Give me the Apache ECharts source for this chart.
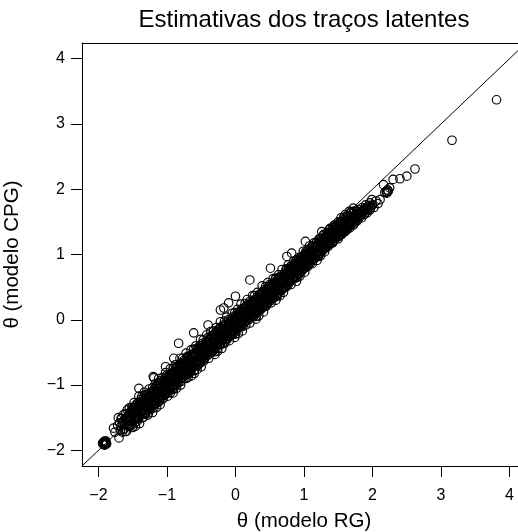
<!DOCTYPE html>
<html><head><meta charset="utf-8">
<script src="https://cdn.jsdelivr.net/npm/echarts@6/dist/echarts.min.js"></script>
<style>html,body{margin:0;padding:0;background:#fff;overflow:hidden}#c{width:518px;height:532px}</style>
</head><body><div id="c"></div>
<script>
const titulo = 'Estimativas dos traços latentes';
const nomeX = 'θ (modelo RG)';
const nomeY = 'θ (modelo CPG)';
const marcas = [-2, -1, 0, 1, 2, 3, 4];
const limitesX = [-2.24, 4.24];
const limitesY = [-2.24, 4.24];
const linhaIdentidade = [-2.24, 4.24];

// [theta RG, theta CPG]
const aglomerado = [[-1.91,-1.88],[-1.92,-1.90],[-1.90,-1.87],[-1.89,-1.89],[-1.93,-1.91],[-1.91,-1.86],[-1.88,-1.90],[-1.92,-1.87],[-1.90,-1.91],[-1.94,-1.89],[-1.89,-1.86],[-1.91,-1.92]];
const faixaBaixa = [[-1.78,-1.66],[-1.76,-1.72],[-1.72,-1.62],[-1.71,-1.50],[-1.69,-1.58],[-1.67,-1.63],[-1.66,-1.51],[-1.64,-1.56],[-1.62,-1.66],[-1.61,-1.71],[-1.60,-1.52],[-1.58,-1.38],[-1.58,-1.60],[-1.57,-1.48],[-1.56,-1.55],[-1.55,-1.43],[-1.54,-1.62],[-1.53,-1.50],[-1.52,-1.40],[-1.51,-1.57],
[-1.50,-1.45],[-1.49,-1.36],[-1.48,-1.52],[-1.47,-1.42],[-1.46,-1.31],[-1.45,-1.48],[-1.44,-1.38],[-1.43,-1.55],[-1.42,-1.27],[-1.41,-1.05],[-1.41,-1.40],[-1.40,-1.46],[-1.39,-1.33],[-1.38,-1.22],[-1.37,-1.42],[-1.36,-1.30],[-1.35,-1.50],[-1.34,-1.25],[-1.33,-1.38],[-1.32,-1.15],[-1.31,-1.44],[-1.30,-1.28],[-1.29,-1.34],[-1.28,-1.20],[-1.27,-1.43],[-1.26,-1.24],[-1.25,-1.12],[-1.24,-1.36],[-1.23,-1.27],[-1.22,-1.18],[-1.21,-1.32],[-1.20,-0.87],[-1.20,-1.10],
[-1.19,-0.89],[-1.19,-1.22],[-1.18,-1.05],[-1.17,-1.28],[-1.16,-1.14],[-1.15,-1.00],[-1.14,-1.21],[-1.13,-1.09],[-1.12,-0.96],[-1.11,-1.25],[-1.10,-1.04],[-1.09,-1.16],[-1.08,-0.93],[-1.07,-1.10],[-1.06,-1.20],[-1.05,-0.98],[-1.04,-1.07],[-1.03,-0.90],[-1.02,-0.72],[-1.02,-1.14],[-1.01,-1.02],[-1.00,-0.94],[-0.99,-1.10],[-0.98,-0.86],[-0.97,-1.03],[-0.96,-0.95],[-0.95,-1.12],[-0.94,-0.83],[-0.93,-0.99],[-0.92,-0.90],[-0.91,-1.05],[-0.90,-0.59],[-0.90,-0.80]];
const faixaMedia = [[-0.89,-0.96],[-0.88,-0.85],[-0.87,-0.74],[-0.86,-1.00],[-0.85,-0.88],[-0.84,-0.78],[-0.83,-0.36],[-0.83,-0.92],[-0.82,-0.70],[-0.81,-0.84],[-0.80,-0.95],[-0.79,-0.66],[-0.78,-0.80],[-0.77,-0.88],[-0.76,-0.72],[-0.75,-0.62],[-0.74,-0.85],[-0.73,-0.76],[-0.72,-0.90],[-0.71,-0.68],[-0.70,-0.79],[-0.69,-0.58],[-0.68,-0.83],[-0.67,-0.71],[-0.66,-0.62],[-0.65,-0.77],[-0.64,-0.86],[-0.63,-0.55],[-0.62,-0.70],[-0.61,-0.20],[-0.61,-0.64],[-0.60,-0.78],
[-0.59,-0.52],[-0.58,-0.66],[-0.57,-0.45],[-0.56,-0.60],[-0.55,-0.70],[-0.54,-0.48],[-0.53,-0.57],[-0.52,-0.40],[-0.51,-0.64],[-0.50,-0.50],[-0.49,-0.58],[-0.48,-0.36],[-0.47,-0.47],[-0.46,-0.61],[-0.45,-0.42],[-0.44,-0.52],[-0.43,-0.33],[-0.42,-0.46],[-0.41,-0.55],[-0.40,-0.08],[-0.40,-0.38],[-0.39,-0.44],[-0.38,-0.30],[-0.37,-0.50],[-0.36,-0.36],[-0.35,-0.25],[-0.34,-0.42],[-0.33,-0.31],[-0.32,-0.47],[-0.31,-0.22],[-0.30,-0.35],
[-0.29,-0.40],[-0.28,-0.18],[-0.27,-0.29],[-0.26,-0.44],[-0.25,-0.24],[-0.24,-0.33],[-0.23,-0.14],[-0.22,0.15],[-0.22,-0.38],[-0.21,-0.26],[-0.20,-0.18],[-0.19,-0.32],[-0.18,-0.08],[-0.17,0.18],[-0.17,-0.24],[-0.16,-0.36],[-0.15,-0.14],[-0.14,-0.22],[-0.13,-0.05],[-0.12,-0.30],[-0.11,-0.16],[-0.10,0.26],[-0.10,-0.08],[-0.09,-0.25],[-0.08,-0.13],[-0.07,-0.02],[-0.06,-0.21],[-0.05,-0.10],[-0.04,0.02],[-0.03,-0.18],[-0.02,-0.07],[-0.01,0.06],
[0.00,0.36],[0.00,-0.12],[0.01,-0.02],[0.02,-0.16],[0.03,0.08],[0.04,-0.05],[0.05,0.10],[0.06,-0.08],[0.07,0.02],[0.08,0.14],[0.09,-0.04],[0.10,0.06],[0.11,-0.10],[0.12,0.17],[0.13,0.03],[0.14,0.10],[0.15,-0.02],[0.16,0.21],[0.17,0.07],[0.18,0.13],[0.19,0.00],[0.20,0.24],[0.21,0.61],[0.21,0.09],[0.22,0.16],[0.23,0.04],[0.24,0.27],[0.25,0.12],[0.26,0.20],[0.27,0.08],[0.28,0.30],[0.29,0.15]];
const faixaAlta = [[0.30,0.22],[0.31,0.11],[0.32,0.33],[0.33,0.19],[0.34,0.26],[0.35,0.14],[0.36,0.37],[0.37,0.23],[0.38,0.30],[0.39,0.18],[0.40,0.41],[0.41,0.27],[0.42,0.34],[0.43,0.21],[0.44,0.45],[0.45,0.31],[0.46,0.38],[0.47,0.25],[0.48,0.49],[0.49,0.35],[0.50,0.42],[0.51,0.79],[0.51,0.29],[0.52,0.52],[0.53,0.39],[0.54,0.46],[0.55,0.33],[0.56,0.56],[0.57,0.43],[0.58,0.50],[0.59,0.37],
[0.60,0.60],[0.61,0.47],[0.62,0.54],[0.63,0.41],[0.64,0.63],[0.65,0.51],[0.66,0.58],[0.67,0.46],[0.68,0.67],[0.69,0.55],[0.70,0.62],[0.71,0.50],[0.72,0.71],[0.73,0.59],[0.74,0.66],[0.75,0.97],[0.75,0.54],[0.76,0.74],[0.77,0.63],[0.78,0.70],[0.79,0.58],[0.80,0.78],[0.81,0.67],[0.82,1.02],[0.82,0.74],[0.83,0.62],[0.84,0.82],[0.85,0.71],[0.86,0.77],[0.87,0.66],[0.88,0.86],[0.89,0.75],
[0.90,0.81],[0.91,0.70],[0.92,0.90],[0.93,0.79],[0.94,0.85],[0.95,0.74],[0.96,0.93],[0.97,0.83],[0.98,0.89],[0.99,0.78],[1.00,0.97],[1.01,0.87],[1.02,1.20],[1.02,0.93],[1.03,0.82],[1.04,1.01],[1.05,0.91],[1.06,0.97],[1.07,0.86],[1.08,1.05],[1.09,0.95],[1.10,1.01],[1.11,0.90],[1.12,1.08],[1.13,0.99],[1.14,1.05],[1.15,0.94],[1.16,1.12],[1.17,1.03],[1.18,1.09],[1.19,0.98],
[1.20,1.16],[1.21,1.06],[1.22,1.13],[1.23,1.02],[1.24,1.19],[1.25,1.10],[1.26,1.35],[1.26,1.17],[1.27,1.06],[1.28,1.22],[1.29,1.14],[1.30,1.20],[1.31,1.10],[1.32,1.26],[1.33,1.18],[1.34,1.24],[1.35,1.14],[1.36,1.29],[1.37,1.21],[1.38,1.27],[1.39,1.18],[1.40,1.33],[1.41,1.25],[1.42,1.30],[1.43,1.21],[1.44,1.36],[1.45,1.28],[1.46,1.34],[1.47,1.25],[1.48,1.39],[1.49,1.31],
[1.50,1.37],[1.51,1.28],[1.52,1.42],[1.53,1.35],[1.54,1.40],[1.55,1.31],[1.56,1.45],[1.57,1.38],[1.58,1.43],[1.59,1.35],[1.60,1.48],[1.61,1.41],[1.62,1.46],[1.63,1.38],[1.64,1.51],[1.65,1.44],[1.66,1.49],[1.67,1.41],[1.68,1.54],[1.69,1.47],[1.70,1.52],[1.72,1.71],[1.72,1.45],[1.73,1.55],[1.75,1.50],[1.76,1.58],[1.78,1.52],[1.79,1.60]];
const faixaLarga = [[-1.70,-1.81],[-1.69,-1.58],[-1.68,-1.69],[-1.67,-1.51],[-1.65,-1.72],[-1.65,-1.59],[-1.63,-1.68],[-1.63,-1.45],[-1.62,-1.60],[-1.61,-1.52],
[-1.60,-1.44],[-1.59,-1.71],[-1.57,-1.52],[-1.57,-1.62],[-1.55,-1.35],[-1.55,-1.63],[-1.53,-1.41],[-1.53,-1.53],[-1.51,-1.34],[-1.50,-1.65],
[-1.50,-1.64],[-1.49,-1.41],[-1.48,-1.27],[-1.46,-1.52],[-1.46,-1.63],[-1.44,-1.29],[-1.44,-1.42],[-1.42,-1.52],[-1.41,-1.17],[-1.40,-1.29],
[-1.40,-1.59],[-1.39,-1.26],[-1.38,-1.43],[-1.37,-1.18],[-1.35,-1.49],[-1.35,-1.30],[-1.33,-1.43],[-1.33,-1.11],[-1.31,-1.32],[-1.30,-1.21],
[-1.30,-1.15],[-1.28,-1.46],[-1.28,-1.26],[-1.26,-1.35],[-1.26,-1.06],[-1.24,-1.37],[-1.23,-1.13],[-1.23,-1.27],[-1.21,-1.04],[-1.21,-1.42],
[-1.19,-1.35],[-1.19,-1.13],[-1.17,-0.98],[-1.17,-1.25],[-1.15,-1.34],[-1.15,-1.02],[-1.14,-1.14],[-1.12,-1.24],[-1.12,-0.90],[-1.10,-1.01],
[-1.10,-1.30],[-1.09,-0.97],[-1.08,-1.14],[-1.06,-0.88],[-1.06,-1.21],[-1.04,-1.00],[-1.04,-1.15],[-1.02,-0.81],[-1.02,-1.04],[-1.00,-0.92],
[-1.00,-0.85],[-0.99,-1.17],[-0.97,-0.95],[-0.97,-1.06],[-0.95,-0.75],[-0.95,-1.08],[-0.93,-0.83],[-0.93,-0.97],[-0.91,-0.74],[-0.91,-1.12],
[-0.90,-1.06],[-0.88,-0.82],[-0.88,-0.69],[-0.86,-0.94],[-0.86,-1.05],[-0.85,-0.72],[-0.83,-0.83],[-0.83,-0.95],[-0.81,-0.59],[-0.80,-0.71],
[-0.80,-1.00],[-0.79,-0.67],[-0.77,-0.83],[-0.77,-0.59],[-0.75,-0.90],[-0.74,-0.70],[-0.74,-0.85],[-0.72,-0.51],[-0.72,-0.74],[-0.70,-0.62],
[-0.70,-0.56],[-0.69,-0.88],[-0.68,-0.67],[-0.66,-0.76],[-0.65,-0.46],[-0.65,-0.79],[-0.63,-0.54],[-0.63,-0.68],[-0.61,-0.45],[-0.60,-0.82],
[-0.60,-0.77],[-0.59,-0.54],[-0.58,-0.40],[-0.56,-0.65],[-0.56,-0.76],[-0.54,-0.42],[-0.53,-0.54],[-0.53,-0.66],[-0.51,-0.30],[-0.51,-0.43],
[-0.50,-0.72],[-0.49,-0.39],[-0.48,-0.56],[-0.47,-0.31],[-0.46,-0.63],[-0.44,-0.42],[-0.44,-0.57],[-0.42,-0.23],[-0.41,-0.45],[-0.41,-0.35],
[-0.40,-0.27],[-0.39,-0.59],[-0.37,-0.37],[-0.37,-0.48],[-0.36,-0.18],[-0.34,-0.49],[-0.34,-0.26],[-0.32,-0.38],[-0.32,-0.17],[-0.30,-0.53],
[-0.30,-0.49],[-0.29,-0.26],[-0.28,-0.12],[-0.26,-0.37],[-0.26,-0.48],[-0.24,-0.14],[-0.23,-0.26],[-0.23,-0.38],[-0.22,-0.03],[-0.20,-0.14],
[-0.20,-0.44],[-0.18,-0.10],[-0.18,-0.28],[-0.16,-0.02],[-0.16,-0.35],[-0.15,-0.15],[-0.13,-0.28],[-0.13,0.04],[-0.12,-0.18],[-0.10,-0.06],
[-0.10,0.00],[-0.09,-0.32],[-0.07,-0.10],[-0.07,-0.21],[-0.05,0.10],[-0.05,-0.23],[-0.04,0.01],[-0.02,-0.11],[-0.01,0.11],[-0.01,-0.27],
[0.00,-0.22],[0.01,0.01],[0.03,0.16],[0.04,-0.10],[0.04,-0.21],[0.06,0.13],[0.06,0.00],[0.08,-0.10],[0.08,0.24],[0.10,0.13],
[0.10,-0.17],[0.12,0.17],[0.12,-0.01],[0.14,0.25],[0.15,-0.08],[0.15,0.12],[0.17,-0.01],[0.17,0.31],[0.19,0.10],[0.19,0.20],
[0.21,0.28],[0.21,-0.05],[0.23,0.17],[0.23,0.06],[0.25,0.37],[0.26,0.05],[0.26,0.28],[0.28,0.16],[0.28,0.37],[0.30,0.01],
[0.30,0.05],[0.32,0.29],[0.32,0.42],[0.34,0.17],[0.34,0.06],[0.36,0.40],[0.37,0.28],[0.37,0.16],[0.39,0.52],[0.40,0.40],
[0.41,0.12],[0.41,0.42],[0.43,0.27],[0.44,0.51],[0.45,0.21],[0.45,0.39],[0.47,0.27],[0.47,0.57],[0.48,0.36],[0.50,0.48],
[0.50,0.54],[0.52,0.26],[0.52,0.44],[0.54,0.36],[0.55,0.63],[0.56,0.34],[0.56,0.55],[0.58,0.44],[0.59,0.64],[0.59,0.30],
[0.61,0.36],[0.61,0.55],[0.63,0.69],[0.63,0.45],[0.65,0.37],[0.65,0.66],[0.67,0.56],[0.67,0.45],[0.68,0.77],[0.70,0.67],
[0.70,0.42],[0.72,0.71],[0.72,0.56],[0.74,0.78],[0.74,0.50],[0.76,0.68],[0.77,0.57],[0.77,0.84],[0.79,0.66],[0.80,0.76],
[0.81,0.82],[0.81,0.54],[0.83,0.73],[0.83,0.63],[0.85,0.90],[0.86,0.63],[0.86,0.83],[0.88,0.73],[0.88,0.90],[0.89,0.59],
[0.90,0.65],[0.92,0.85],[0.92,0.95],[0.94,0.76],[0.94,0.67],[0.96,0.94],[0.96,0.84],[0.97,0.75],[0.99,1.05],[1.00,0.95],
[1.01,0.73],[1.01,0.99],[1.03,0.86],[1.03,1.05],[1.05,0.81],[1.05,0.96],[1.07,0.86],[1.08,1.13],[1.08,0.94],[1.10,1.04],
[1.10,1.09],[1.12,0.86],[1.13,1.03],[1.13,0.94],[1.15,1.18],[1.16,0.94],[1.16,1.12],[1.18,1.03],[1.18,1.19],[1.19,0.91],
[1.21,0.97],[1.21,1.12],[1.23,1.23],[1.24,1.05],[1.24,0.98],[1.26,1.22],[1.27,1.14],[1.27,1.06],[1.29,1.31],[1.29,1.22],
[1.30,1.04],[1.32,1.27],[1.32,1.15],[1.34,1.33],[1.35,1.12],[1.35,1.25],[1.37,1.17],[1.37,1.38],[1.39,1.25],[1.40,1.32],
[1.40,1.36],[1.42,1.18],[1.43,1.31],[1.43,1.25],[1.45,1.44],[1.46,1.25],[1.46,1.39],[1.48,1.33],[1.48,1.45],[1.50,1.24],
[1.51,1.28],[1.51,1.40],[1.53,1.49],[1.53,1.35],[1.55,1.31],[1.55,1.48],[1.57,1.43],[1.57,1.36],[1.59,1.57],[1.60,1.51],
[1.60,1.35],[1.62,1.53],[1.62,1.44],[1.64,1.58],[1.65,1.42],[1.66,1.53],[1.66,1.45],[1.68,1.64],[1.69,1.53],[1.69,1.58],
[1.71,1.56],[1.73,1.50],[1.74,1.60],[1.76,1.54],[1.77,1.63],[1.79,1.57],[1.80,1.64],[1.82,1.60],[1.84,1.66],[1.85,1.61],[1.87,1.69],[1.89,1.64],[1.91,1.72],[1.93,1.68],[1.95,1.75],[1.97,1.71]];
const nucleo = [[-1.56,-1.49],[-1.55,-1.62],[-1.54,-1.42],[-1.53,-1.56],[-1.52,-1.43],[-1.51,-1.61],[-1.50,-1.36],[-1.49,-1.54],[-1.48,-1.42],[-1.47,-1.58],[-1.46,-1.35],[-1.45,-1.49],[-1.44,-1.31],[-1.43,-1.51],[-1.42,-1.34],[-1.41,-1.50],
[-1.40,-1.33],[-1.39,-1.46],[-1.38,-1.26],[-1.37,-1.40],[-1.36,-1.27],[-1.35,-1.45],[-1.34,-1.20],[-1.33,-1.38],[-1.32,-1.26],[-1.31,-1.42],[-1.30,-1.19],[-1.29,-1.33],[-1.28,-1.15],[-1.27,-1.35],[-1.26,-1.18],[-1.25,-1.34],
[-1.24,-1.17],[-1.23,-1.30],[-1.22,-1.10],[-1.21,-1.24],[-1.20,-1.13],[-1.19,-1.31],[-1.18,-1.06],[-1.17,-1.24],[-1.16,-1.12],[-1.15,-1.28],[-1.14,-1.05],[-1.13,-1.19],[-1.12,-1.01],[-1.11,-1.21],[-1.10,-1.04],[-1.09,-1.20],
[-1.08,-1.03],[-1.07,-1.16],[-1.06,-0.96],[-1.05,-1.10],[-1.04,-0.97],[-1.03,-1.15],[-1.02,-0.90],[-1.01,-1.08],[-1.00,-0.96],[-0.99,-1.12],[-0.98,-0.89],[-0.97,-1.03],[-0.96,-0.85],[-0.95,-1.05],[-0.94,-0.88],[-0.93,-1.04],
[-0.92,-0.87],[-0.91,-1.00],[-0.90,-0.80],[-0.89,-0.94],[-0.88,-0.81],[-0.87,-0.99],[-0.86,-0.74],[-0.85,-0.92],[-0.84,-0.80],[-0.83,-0.96],[-0.82,-0.73],[-0.81,-0.87],[-0.80,-0.69],[-0.79,-0.89],[-0.78,-0.72],[-0.77,-0.88],
[-0.76,-0.71],[-0.75,-0.84],[-0.74,-0.64],[-0.73,-0.78],[-0.72,-0.65],[-0.71,-0.83],[-0.70,-0.58],[-0.69,-0.76],[-0.68,-0.64],[-0.67,-0.80],[-0.66,-0.57],[-0.65,-0.71],[-0.64,-0.53],[-0.63,-0.73],[-0.62,-0.56],[-0.61,-0.72],
[-0.60,-0.57],[-0.59,-0.70],[-0.58,-0.50],[-0.57,-0.64],[-0.56,-0.51],[-0.55,-0.69],[-0.54,-0.44],[-0.53,-0.62],[-0.52,-0.50],[-0.51,-0.66],[-0.50,-0.43],[-0.49,-0.57],[-0.48,-0.39],[-0.47,-0.59],[-0.46,-0.42],[-0.45,-0.58],
[-0.44,-0.41],[-0.43,-0.54],[-0.42,-0.34],[-0.41,-0.48],[-0.40,-0.35],[-0.39,-0.53],[-0.38,-0.28],[-0.37,-0.46],[-0.36,-0.34],[-0.35,-0.50],[-0.34,-0.27],[-0.33,-0.41],[-0.32,-0.23],[-0.31,-0.43],[-0.30,-0.26],[-0.29,-0.42],
[-0.28,-0.25],[-0.27,-0.38],[-0.26,-0.18],[-0.25,-0.32],[-0.24,-0.19],[-0.23,-0.37],[-0.22,-0.12],[-0.21,-0.30],[-0.20,-0.21],[-0.19,-0.37],[-0.18,-0.14],[-0.17,-0.28],[-0.16,-0.10],[-0.15,-0.30],[-0.14,-0.13],[-0.13,-0.29],
[-0.12,-0.12],[-0.11,-0.25],[-0.10,-0.05],[-0.09,-0.19],[-0.08,-0.06],[-0.07,-0.24],[-0.06,0.01],[-0.05,-0.17],[-0.04,-0.05],[-0.03,-0.21],[-0.02,0.02],[-0.01,-0.12],[0.00,0.06],[0.01,-0.14],[0.02,0.03],[0.03,-0.13],
[0.04,0.04],[0.05,-0.09],[0.06,0.11],[0.07,-0.03],[0.08,0.10],[0.09,-0.08],[0.10,0.17],[0.11,-0.01],[0.12,0.11],[0.13,-0.05],[0.14,0.18],[0.15,0.04],[0.16,0.22],[0.17,0.02],[0.18,0.19],[0.19,0.03],
[0.20,0.17],[0.21,0.04],[0.22,0.24],[0.23,0.10],[0.24,0.23],[0.25,0.05],[0.26,0.30],[0.27,0.12],[0.28,0.24],[0.29,0.08],[0.30,0.31],[0.31,0.17],[0.32,0.35],[0.33,0.15],[0.34,0.32],[0.35,0.16],
[0.36,0.33],[0.37,0.20],[0.38,0.40],[0.39,0.26],[0.40,0.39],[0.41,0.21],[0.42,0.46],[0.43,0.28],[0.44,0.40],[0.45,0.24],[0.46,0.47],[0.47,0.33],[0.48,0.51],[0.49,0.31],[0.50,0.48],[0.51,0.32],
[0.52,0.49],[0.53,0.36],[0.54,0.56],[0.55,0.42],[0.56,0.55],[0.57,0.37],[0.58,0.62],[0.59,0.44],[0.60,0.54],[0.61,0.38],[0.62,0.61],[0.63,0.47],[0.64,0.65],[0.65,0.45],[0.66,0.62],[0.67,0.46],
[0.68,0.63],[0.69,0.50],[0.70,0.70],[0.71,0.56],[0.72,0.69],[0.73,0.51],[0.74,0.76],[0.75,0.58],[0.76,0.70],[0.77,0.54],[0.78,0.77],[0.79,0.63],[0.80,0.81],[0.81,0.61],[0.82,0.78],[0.83,0.62],
[0.84,0.79],[0.85,0.66],[0.86,0.86],[0.87,0.72],[0.88,0.85],[0.89,0.67],[0.90,0.92],[0.91,0.74],[0.92,0.86],[0.93,0.70],[0.94,0.93],[0.95,0.79],[0.96,0.97],[0.97,0.77],[0.98,0.94],[0.99,0.78],
[1.00,0.95],[1.01,0.82],[1.02,1.02],[1.03,0.88],[1.04,1.01],[1.05,0.83],[1.06,1.08],[1.07,0.90],[1.08,1.02],[1.09,0.86],[1.10,1.09],[1.11,0.95],[1.12,1.13],[1.13,0.93],[1.14,1.10],[1.15,0.94],
[1.16,1.11],[1.17,0.98],[1.18,1.18],[1.19,1.04],[1.20,1.17],[1.21,0.99],[1.22,1.24],[1.23,1.06],[1.24,1.18],[1.25,1.02],[1.26,1.25],[1.27,1.11],[1.28,1.29],[1.29,1.09],[1.30,1.26],[1.31,1.10],
[1.32,1.27],[1.33,1.14],[1.34,1.34],[1.35,1.20],[1.36,1.33],[1.37,1.15],[1.38,1.40],[1.39,1.22],[1.40,1.34],[1.41,1.18],[1.42,1.41],[1.43,1.27],[1.44,1.45],[1.45,1.25],[1.46,1.42],[1.47,1.26],
[1.48,1.43],[1.49,1.30],[1.50,1.50],[1.51,1.36],[1.52,1.49],[1.53,1.31],[1.54,1.56],[1.55,1.38],[1.56,1.50],[1.57,1.34],[1.58,1.57],[1.59,1.43],[1.60,1.61],[1.61,1.41],[1.62,1.58],[1.63,1.42],
[1.64,1.59],[1.65,1.46],[1.66,1.66],[1.67,1.52],[1.68,1.65],[1.69,1.47],[1.70,1.66],[1.71,1.52],[1.72,1.63],[1.73,1.47],[1.74,1.66],[1.75,1.55],
[1.77,1.66],[1.79,1.62],[1.81,1.69],[1.83,1.62],[1.85,1.72],[1.88,1.68],[1.90,1.76],[1.93,1.71],[1.96,1.79],[1.98,1.74]];
const extremos = [[1.81,1.57],[1.83,1.63],[1.84,1.56],[1.86,1.66],[1.88,1.61],[1.90,1.70],[1.92,1.64],[1.94,1.74],[1.96,1.68],[1.99,1.84],[2.00,1.76],[2.02,1.72],
[2.05,1.82],[2.08,1.78],[2.11,1.84],[2.16,2.07],[2.18,1.95],[2.20,1.97],[2.21,1.96],[2.22,1.99],[2.21,1.94],[2.23,1.97],[2.25,2.02],[2.30,2.15],[2.40,2.16],[2.50,2.20],[2.62,2.31],[3.16,2.75],[3.81,3.37]];

const pontos = [].concat(aglomerado, faixaBaixa, faixaMedia, faixaAlta, faixaLarga, nucleo, extremos);
const fonte = '"Liberation Sans", Arial, Helvetica, sans-serif';
const menos = v => String(v).replace('-', '\u2212');
const linhaEixo = {show: true, onZero: false, lineStyle: {color: '#000', width: 1}};

const chart = echarts.init(document.getElementById('c'), null, {renderer: 'canvas'});
chart.setOption({
  animation: false,
  backgroundColor: '#fff',
  title: {
    text: titulo, left: 304, top: 8, padding: 0, textAlign: 'center',
    textStyle: {fontSize: 24, fontWeight: 'normal', color: '#000', fontFamily: fonte}
  },
  grid: {left: 82, top: 43, right: -8, bottom: 66, containLabel: false, outerBoundsMode: 'none', show: false},
  xAxis: [{
    type: 'value', min: limitesX[0], max: limitesX[1], position: 'bottom',
    name: nomeX, nameLocation: 'middle', nameGap: 45,
    nameTextStyle: {fontSize: 20.5, color: '#000', fontFamily: fonte},
    axisLine: linhaEixo,
    axisTick: {show: true, length: 11, customValues: marcas, lineStyle: {color: '#000', width: 1}},
    axisLabel: {customValues: marcas, margin: 22, fontSize: 16, color: '#000', fontFamily: fonte, formatter: menos},
    splitLine: {show: false}
  }, {
    type: 'value', min: limitesX[0], max: limitesX[1], position: 'top',
    axisLine: linhaEixo, axisTick: {show: false}, axisLabel: {show: false}, splitLine: {show: false}
  }],
  yAxis: {
    type: 'value', min: limitesY[0], max: limitesY[1],
    name: nomeY, nameLocation: 'middle', nameGap: 59,
    nameTextStyle: {fontSize: 20.5, color: '#000', fontFamily: fonte},
    axisLine: linhaEixo,
    axisTick: {show: true, length: 11, customValues: marcas, lineStyle: {color: '#000', width: 1}},
    axisLabel: {customValues: marcas, margin: 17, fontSize: 16, color: '#000', fontFamily: fonte, formatter: menos},
    splitLine: {show: false}
  },
  series: [
    {
      type: 'line', data: linhaIdentidade.map(v => [v, v]), symbol: 'none', silent: true,
      lineStyle: {color: '#000', width: 1}, clip: true, z: 3
    },
    {
      type: 'scatter', data: pontos, symbol: 'circle', symbolSize: 8.5, large: false, progressive: 0,
      itemStyle: {color: 'rgba(0,0,0,0)', borderColor: '#000', borderWidth: 1.15, opacity: 1},
      emphasis: {disabled: true}, silent: true, z: 2
    }
  ]
});
</script></body></html>
